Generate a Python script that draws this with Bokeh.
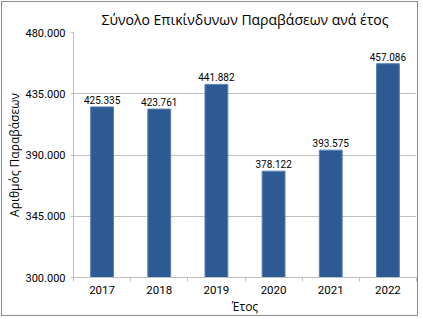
from bokeh.plotting import figure
from bokeh.models import FixedTicker, CustomJSTickFormatter, Range1d, ColumnDataSource, LabelSet
from bokeh.core.properties import value
from bokeh.embed import file_html
from bokeh.resources import INLINE

years = ["2017", "2018", "2019", "2020", "2021", "2022"]
values = [425335, 423761, 441882, 378122, 393575, 457086]
y_ticks = [300000, 345000, 390000, 435000, 480000]
title = "Σύνολο Επικίνδυνων Παραβάσεων ανά έτος"
x_title = "Έτος"
y_title = "Αριθμός Παραβάσεων"

FONT = "Open Sans"
NUMFONT = "Roboto"
xs = [i + 0.5 for i in range(len(years))]
labels = [f"{v:,}".replace(",", ".") for v in values]
src = ColumnDataSource(dict(x=xs, top=values, lab=labels))

p = figure(width=417, height=315, output_backend="svg", toolbar_location=None,
           x_range=Range1d(0, len(years)), y_range=Range1d(y_ticks[0], y_ticks[-1]),
           min_border_left=20, min_border_right=3, min_border_top=30, min_border_bottom=10)
p.styles = {"border": "1px solid #8c8c8c", "margin": "1px 0 0 1px"}
p.outline_line_color = None
p.title.text = title
p.title.align = "center"
p.title.vertical_align = "top"
p.title.text_font = FONT
p.title.text_font_size = "14px"
p.title.text_font_style = "normal"
p.title.text_color = "#000000"
p.title.standoff = 4
p.title.offset = 0

p.vbar(x="x", top="top", bottom=y_ticks[0], width=0.4, source=src,
       fill_color="#2E5A94", line_color="#5B82B8", line_width=1)
p.add_layout(LabelSet(x="x", y="top", text="lab", source=src, text_align="center",
                      text_baseline="bottom", y_offset=3, text_font=value(NUMFONT),
                      text_font_size="10px", text_color="#000000"))

p.xgrid.visible = False
p.ygrid.grid_line_color = "#BFBFBF"
p.ygrid.grid_line_width = 1

p.yaxis.ticker = FixedTicker(ticks=y_ticks)
p.yaxis.formatter = CustomJSTickFormatter(code="return (tick/1000).toFixed(3);")
p.yaxis.axis_line_color = "#BFBFBF"
p.yaxis.major_tick_line_color = "#BFBFBF"
p.yaxis.major_tick_out = 3
p.yaxis.major_tick_in = 0
p.yaxis.minor_tick_line_color = None
p.yaxis.minor_tick_out = 0
p.yaxis.major_label_standoff = 5
p.yaxis.major_label_text_font = NUMFONT
p.yaxis.major_label_text_font_size = "11px"
p.yaxis.major_label_text_color = "#000000"
p.yaxis.axis_label = y_title
p.yaxis.axis_label_text_font = FONT
p.yaxis.axis_label_text_font_size = "12px"
p.yaxis.axis_label_text_font_style = "normal"
p.yaxis.axis_label_text_color = "#000000"
p.yaxis.axis_label_standoff = 0

p.xaxis.ticker = FixedTicker(ticks=xs, minor_ticks=list(range(len(years) + 1)))
p.xaxis.major_label_overrides = {x: y for x, y in zip(xs, years)}
p.xaxis.axis_line_color = "#BFBFBF"
p.xaxis.major_tick_line_color = None
p.xaxis.major_tick_out = 0
p.xaxis.major_tick_in = 0
p.xaxis.minor_tick_line_color = "#BFBFBF"
p.xaxis.minor_tick_out = 4
p.xaxis.minor_tick_in = 0
p.xaxis.major_label_standoff = 4
p.xaxis.major_label_text_font = NUMFONT
p.xaxis.major_label_text_font_size = "11.5px"
p.xaxis.major_label_text_color = "#000000"
p.xaxis.axis_label = x_title
p.xaxis.axis_label_text_font = FONT
p.xaxis.axis_label_text_font_size = "12px"
p.xaxis.axis_label_text_font_style = "normal"
p.xaxis.axis_label_text_color = "#000000"
p.xaxis.axis_label_standoff = 1

open("out.html", "w").write(file_html(p, INLINE))
